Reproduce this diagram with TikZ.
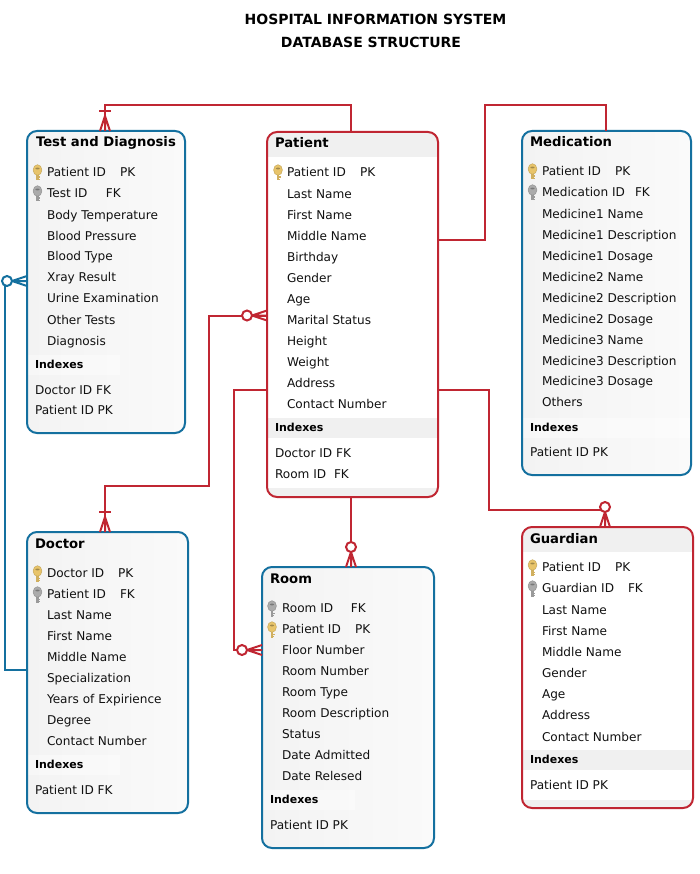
\documentclass[tikz,border=0pt]{standalone}
\usepackage{fontspec}
\setmainfont{DejaVu Sans}
\definecolor{erred}{HTML}{C02632}
\definecolor{erblue}{HTML}{14709F}
\definecolor{band}{HTML}{F0F0F0}
\definecolor{fadeleft}{HTML}{F3F3F3}
\definecolor{faderight}{HTML}{FAFAFA}
\definecolor{goldkey}{HTML}{E8C46A}
\definecolor{greykey}{HTML}{ABABAB}
\definecolor{ink}{HTML}{111111}
\tikzset{
  tablebox/.style={rectangle,rounded corners=10pt,line width=2pt,outer sep=0pt,inner sep=0pt},
  conn/.style={line width=2pt,line join=miter},
  rowtext/.style={anchor=base west,inner sep=0pt,outer sep=0pt,font=\fontsize{12.1}{14}\selectfont,text=ink},
  idxtext/.style={anchor=base west,inner sep=0pt,outer sep=0pt,font=\fontsize{11}{12}\selectfont\bfseries,text=black},
  headtext/.style={anchor=base west,inner sep=0pt,outer sep=0pt,font=\fontsize{13.2}{15}\selectfont\bfseries,text=black},
  titletext/.style={anchor=base,inner sep=0pt,outer sep=0pt,font=\fontsize{14}{16}\selectfont\bfseries,text=black},
  softband/.style={white,opacity=.4},
}
\newcommand\tableframe[6]{\node[tablebox,draw=#6,minimum width=#4pt-#2pt,minimum height=#5pt-#3pt] (#1) at ({(#2+#4)/2},{(#3+#5)/2}) {};}
\newcommand\bluefill[4]{\fill[rounded corners=10pt,left color=fadeleft,right color=faderight] (#1,#2) rectangle (#3,#4);}
\newcommand\redfill[4]{\fill[rounded corners=10pt,white] (#1,#2) rectangle (#3,#4);}
\newcommand\keyicon[3]{\begin{scope}[shift={(#1,#2)}]
  \fill[#3!90!black] (-1.2,1) rectangle (1.2,10);
  \fill[#3!90!black] (1.2,6) rectangle (2.8,7.2);
  \fill[#3!90!black] (1.2,8.2) rectangle (2.4,9.4);
  \fill[#3,draw=#3!85!black,line width=.5pt] (0,-0.5) ellipse [x radius=4.4,y radius=5.3];
  \fill[#3!70!black] (0,-2) ellipse [x radius=2.2,y radius=.9];
\end{scope}}
% key x, node name, row y, text x, label width, label, tag, key colour
\newcommand\keyrow[8]{\keyicon{#1}{#3-1.5}{#8}\node[rowtext] (#2) at (#4,#3+4.2) {\makebox[#5pt][l]{#6}#7};}
\newcommand\crowfoot[3]{\begin{scope}[shift={(#1)},rotate=#2]
  \draw[conn,#3] (-5pt,0pt) -- (0pt,15pt) -- (5pt,0pt) (0pt,0pt) -- (0pt,15pt);
\end{scope}}
\newcommand\barend[2]{\begin{scope}[shift={(#1)}]
  \draw[conn,#2] (-6pt,20pt) -- (6pt,20pt);
\end{scope}}
\newcommand\ringend[3]{\begin{scope}[shift={(#1)},rotate=#2]
  \draw[conn,#3,fill=white] (0pt,20pt) circle [radius=5pt];
\end{scope}}
\begin{document}
\begin{tikzpicture}[x=1pt,y=-1pt]
\useasboundingbox (0,0) rectangle (700,874);
\fill[white] (0,0) rectangle (700,874);

\node[titletext] (title1) at (375.5,24.6) {HOSPITAL INFORMATION SYSTEM};
\node[titletext] (title2) at (371,47.6) {DATABASE STRUCTURE};

\bluefill{27}{131}{185}{433}
\bluefill{522}{131}{691}{475}
\bluefill{27}{532}{188}{813}
\bluefill{262}{567}{434}{848}
\redfill{267}{132}{438}{497}
\redfill{522}{527}{693}{808}

\begin{scope}
  \clip[rounded corners=10pt] (267,132) rectangle (438,497);
  \fill[band] (267,132) rectangle (438,157);
  \fill[band] (267,418) rectangle (438,438);
  \fill[band] (267,488) rectangle (438,497);
\end{scope}
\begin{scope}
  \clip[rounded corners=10pt] (522,527) rectangle (693,808);
  \fill[band] (522,527) rectangle (693,552);
  \fill[band] (522,750) rectangle (693,770);
  \fill[band] (522,800) rectangle (693,808);
\end{scope}
\fill[softband] (28,355) rectangle (120,375);
\fill[softband] (523,418) rectangle (690,438);
\fill[softband] (28,755) rectangle (120,775);
\fill[softband] (263,790) rectangle (355,810);

\tableframe{test}{27}{131}{185}{433}{erblue}
\tableframe{patient}{267}{132}{438}{497}{erred}
\tableframe{medication}{522}{131}{691}{475}{erblue}
\tableframe{doctor}{27}{532}{188}{813}{erblue}
\tableframe{room}{262}{567}{434}{848}{erblue}
\tableframe{guardian}{522}{527}{693}{808}{erred}

% connectors
\draw[conn,erred] ([xshift=-1.5pt]patient.north) -- (351,105) -- (105,105) -- ([xshift=-1pt]test.north);
\barend{[xshift=-1pt]test.north}{erred}
\crowfoot{[xshift=-1pt]test.north}{0}{erred}

\draw[conn,erred] ([yshift=74.5pt]patient.east) -- (485,240) -- (485,105) -- (605.5,105) -- ([xshift=-1pt]medication.north);

\draw[conn,erred] ([xshift=-2.5pt]doctor.north) -- (105,486) -- (209,486) -- (209,315.5) -- ([yshift=-1pt]patient.west);
\barend{[xshift=-2.5pt]doctor.north}{erred}
\crowfoot{[xshift=-2.5pt]doctor.north}{0}{erred}
\crowfoot{[yshift=-1pt]patient.west}{90}{erred}
\ringend{[yshift=-1pt]patient.west}{90}{erred}

\draw[conn,erred] ([yshift=-75.5pt]patient.west) -- (234,390) -- (234,650) -- ([yshift=57.5pt]room.west);
\crowfoot{[yshift=57.5pt]room.west}{90}{erred}
\ringend{[yshift=57.5pt]room.west}{90}{erred}

\draw[conn,erred] ([xshift=-1.5pt]patient.south) -- ([xshift=3pt]room.north);
\crowfoot{[xshift=3pt]room.north}{0}{erred}
\ringend{[xshift=3pt]room.north}{0}{erred}

\draw[conn,erred] ([yshift=-75.5pt]patient.east) -- (489,390) -- (489,510) -- (605,510) -- ([xshift=-2.5pt]guardian.north);
\crowfoot{[xshift=-2.5pt]guardian.north}{0}{erred}
\ringend{[xshift=-2.5pt]guardian.north}{0}{erred}

\draw[conn,erblue] ([yshift=2.5pt]doctor.west) -- (5,670) -- (5,281) -- ([yshift=1pt]test.west);
\crowfoot{[yshift=1pt]test.west}{90}{erblue}
\ringend{[yshift=1pt]test.west}{90}{erblue}

% Test and Diagnosis
\node[headtext] (testhead) at (36,147) {Test and Diagnosis};
\keyrow{37.5}{testk1}{172}{47}{73}{Patient ID}{PK}{goldkey}
\keyrow{37.5}{testk2}{193}{47}{59}{Test ID}{FK}{greykey}
\foreach \ry/\rt in {215/Body Temperature,236/Blood Pressure,256/Blood Type,277/Xray Result,298/Urine Examination,320/Other Tests,341/Diagnosis}
  \node[rowtext] (test-\ry) at (47,\ry+4.2) {\rt};
\node[idxtext] (testidx) at (35,368) {Indexes};
\node[rowtext] (testi1) at (35,394.2) {Doctor ID FK};
\node[rowtext] (testi2) at (35,414.2) {Patient ID PK};

% Patient
\node[headtext] (pathead) at (275,148) {Patient};
\keyrow{278}{patk1}{172}{287}{73}{Patient ID}{PK}{goldkey}
\foreach \ry/\rt in {194/Last Name,215/First Name,236/Middle Name,257/Birthday,278/Gender,299/Age,320/Marital Status,341/Height,362/Weight,383/Address,404/Contact Number}
  \node[rowtext] (pat-\ry) at (287,\ry+4.2) {\rt};
\node[idxtext] (patidx) at (275,431) {Indexes};
\node[rowtext] (pati1) at (275,457.2) {Doctor ID FK};
\node[rowtext] (pati2) at (275,478.2) {Room ID\hspace{4pt} FK};

% Medication
\node[headtext] (medhead) at (530,147) {Medication};
\keyrow{532.5}{medk1}{171}{542}{73}{Patient ID}{PK}{goldkey}
\keyrow{532.5}{medk2}{192}{542}{93}{Medication ID}{FK}{greykey}
\foreach \ry/\rt in {214/Medicine1 Name,235/Medicine1 Description,256/Medicine1 Dosage,277/Medicine2 Name,298/Medicine2 Description,319/Medicine2 Dosage,340/Medicine3 Name,361/Medicine3 Description,381/Medicine3 Dosage,402/Others}
  \node[rowtext] (med-\ry) at (542,\ry+4.2) {\rt};
\node[idxtext] (medidx) at (530,431) {Indexes};
\node[rowtext] (medi1) at (530,456.2) {Patient ID PK};

% Doctor
\node[headtext] (dochead) at (35,548) {Doctor};
\keyrow{37.5}{dock1}{573}{47}{71}{Doctor ID}{PK}{goldkey}
\keyrow{37.5}{dock2}{594}{47}{73}{Patient ID}{FK}{greykey}
\foreach \ry/\rt in {615/Last Name,636/First Name,657/Middle Name,678/Specialization,699/Years of Expirience,720/Degree,741/Contact Number}
  \node[rowtext] (doc-\ry) at (47,\ry+4.2) {\rt};
\node[idxtext] (docidx) at (35,768) {Indexes};
\node[rowtext] (doci1) at (35,794.2) {Patient ID FK};

% Room
\node[headtext] (roomhead) at (270,583) {Room};
\keyrow{272}{roomk1}{608}{282}{69}{Room ID}{FK}{greykey}
\keyrow{272}{roomk2}{629}{282}{73}{Patient ID}{PK}{goldkey}
\foreach \ry/\rt in {650/Floor Number,671/Room Number,692/Room Type,713/Room Description,734/Status,755/Date Admitted,776/Date Relesed}
  \node[rowtext] (room-\ry) at (282,\ry+4.2) {\rt};
\node[idxtext] (roomidx) at (270,803) {Indexes};
\node[rowtext] (roomi1) at (270,829.2) {Patient ID PK};

% Guardian
\node[headtext] (guahead) at (530,543) {Guardian};
\keyrow{532.5}{guak1}{567}{542}{73}{Patient ID}{PK}{goldkey}
\keyrow{532.5}{guak2}{588}{542}{86}{Guardian ID}{FK}{greykey}
\foreach \ry/\rt in {610/Last Name,631/First Name,652/Middle Name,673/Gender,694/Age,715/Address,737/Contact Number}
  \node[rowtext] (gua-\ry) at (542,\ry+4.2) {\rt};
\node[idxtext] (guaidx) at (530,763) {Indexes};
\node[rowtext] (guai1) at (530,789.2) {Patient ID PK};
\end{tikzpicture}
\end{document}
